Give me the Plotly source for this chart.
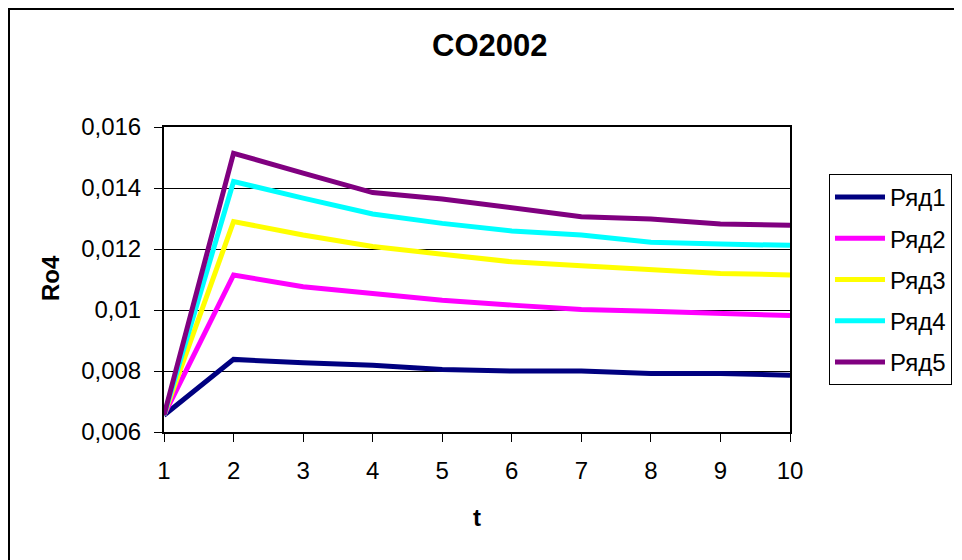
import plotly.graph_objects as go

# data
t = [1, 2, 3, 4, 5, 6, 7, 8, 9, 10]
row1 = [0.00655, 0.00838, 0.00827, 0.00819, 0.00805, 0.00800, 0.00800, 0.00792, 0.00792, 0.00786]
row2 = [0.00655, 0.01115, 0.01076, 0.01052, 0.01032, 0.01016, 0.01002, 0.00996, 0.00989, 0.00982]
row3 = [0.00655, 0.01290, 0.01246, 0.01208, 0.01183, 0.01158, 0.01145, 0.01133, 0.01120, 0.01115]
row4 = [0.00655, 0.01421, 0.01367, 0.01315, 0.01284, 0.01259, 0.01246, 0.01222, 0.01216, 0.01212]
row5 = [0.00655, 0.01514, 0.01449, 0.01385, 0.01364, 0.01334, 0.01306, 0.01298, 0.01282, 0.01278]
names = ["Ряд1", "Ряд2", "Ряд3", "Ряд4", "Ряд5"]
colors = ["#000080", "#FF00FF", "#FFFF00", "#00FFFF", "#800080"]
ytick_vals = [0.006, 0.008, 0.010, 0.012, 0.014, 0.016]
ytick_text = ["0,006", "0,008", "0,01", "0,012", "0,014", "0,016"]

font = "Liberation Sans, Arial, sans-serif"

fig = go.Figure()
for i, ys in enumerate([row1, row2, row3, row4, row5]):
    _ = fig.add_trace(
        go.Scatter(
            x=t,
            y=ys,
            mode="lines",
            name=names[i],
            line=dict(color=colors[i], width=5),
            legendgroup=names[i],
        )
    )

# the page body has an 8px margin, so the figure is a bit smaller than the window
W, H = 954 - 156 - 172, 552 - 119 - 128


def px(x):
    # page pixel x -> paper coordinate
    return (x - 164) / W


def py(y):
    # page pixel y -> paper coordinate
    return (432 - y) / H


fig.update_layout(
    width=954,
    height=552,
    margin=dict(l=156, r=172, t=119, b=128, autoexpand=False),
    paper_bgcolor="white",
    plot_bgcolor="white",
    font=dict(family=font, size=24, color="black"),
    showlegend=True,
    legend=dict(
        x=px(829),
        y=py(174),
        xanchor="left",
        yanchor="top",
        bordercolor="black",
        borderwidth=1,
        font=dict(size=24),
        traceorder="grouped",
        tracegroupgap=7,
        itemwidth=50,
    ),
)

fig.add_annotation(text="<b>CO2002</b>", x=px(489), y=py(45), xref="paper", yref="paper",
                   xanchor="center", yanchor="middle",
                   showarrow=False, font=dict(size=31))
fig.add_annotation(text="<b>t</b>", x=px(477), y=py(517), xref="paper", yref="paper",
                   xanchor="center", yanchor="middle",
                   showarrow=False, font=dict(size=24))
fig.add_annotation(text="<b>Ro4</b>", x=px(50), y=py(278), xref="paper", yref="paper",
                   xanchor="center", yanchor="middle",
                   showarrow=False, textangle=-90, font=dict(size=24))

fig.update_xaxes(
    range=[1, 10],
    tickvals=t,
    ticks="outside",
    ticklen=8,
    tickcolor="black",
    showline=True,
    linecolor="black",
    linewidth=2,
    mirror=True,
    showgrid=False,
    zeroline=False,
    tickfont=dict(size=24),
    ticklabelstandoff=8,
)
fig.update_yaxes(
    range=[0.006, 0.016],
    tickvals=ytick_vals,
    ticktext=ytick_text,
    ticks="outside",
    ticklen=8,
    tickcolor="black",
    showline=True,
    linecolor="black",
    linewidth=2,
    mirror=True,
    showgrid=True,
    gridcolor="black",
    gridwidth=1,
    zeroline=False,
    tickfont=dict(size=24),
    ticklabelstandoff=8,
)

# outer chart border (right and bottom edges run off the picture)
fig.add_shape(type="rect", xref="paper", yref="paper",
              x0=px(9), y0=py(600), x1=px(1000), y1=py(9),
              line=dict(color="black", width=2), fillcolor="rgba(0,0,0,0)", layer="below")

fig.write_html("out.html")
